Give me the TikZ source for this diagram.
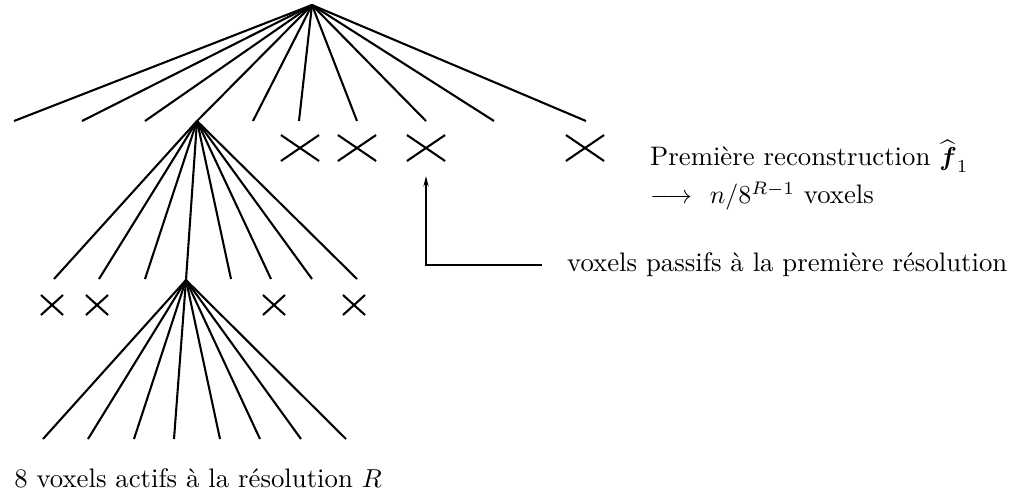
\documentclass[tikz,border=0pt]{standalone}
\usepackage{amsmath,amssymb}
\usepackage{tikz}
\usetikzlibrary{arrows.meta, shapes.misc}

\begin{document}
\begin{tikzpicture}[
    x=0.385pt, y=-0.385pt,
    font=\fontsize{10.3pt}{12.5pt}\selectfont,
    branch/.style={thick},
    bigcross/.style={cross out, draw, thick, inner sep=0pt,
                     minimum width=13.9pt, minimum height=9.2pt},
    smallcross/.style={cross out, draw, thick, inner sep=0pt,
                       minimum width=7.7pt, minimum height=6.9pt},
    pointer/.style={-{Stealth[length=4pt, width=2pt]}, thin},
    label/.style={align=left},
  ]
  \useasboundingbox (0,0) rectangle (1023,497);

  % Tree nodes
  \coordinate (root) at (312,5);
  \coordinate (sub1) at (197,121);
  \coordinate (sub2) at (186,280);

  % First resolution
  \draw[branch] (root) -- (sub1);
  \foreach \x [count=\i] in {14,82,145,253,299,357,426,494,586} {
    \coordinate (a\i) at (\x,121);
    \draw[branch] (root) -- (a\i);
  }
  \node[bigcross] (p1) at (300,148) {};
  \node[bigcross] (p2) at (357,148) {};
  \node[bigcross] (p3) at (426,148) {};
  \node[bigcross] (p4) at (585,148) {};

  % Second resolution
  \draw[branch] (sub1) -- (sub2);
  \foreach \x [count=\i] in {54,99,145,231,271,312,357} {
    \coordinate (b\i) at (\x,279);
    \draw[branch] (sub1) -- (b\i);
  }
  \node[smallcross] (q1) at (52,305) {};
  \node[smallcross] (q2) at (97,305) {};
  \node[smallcross] (q3) at (274,305) {};
  \node[smallcross] (q4) at (354,305) {};

  % Resolution R
  \foreach \x [count=\i] in {43,88,134,174,220,260,301,346} {
    \coordinate (c\i) at (\x,439);
    \draw[branch] (sub2) -- (c\i);
  }

  % Labels
  \node[label, anchor=west] (first) at (641,175)
    {Premi\`ere reconstruction $\widehat{\boldsymbol{f}}_1$\\[2pt]
     $\longrightarrow$\ \ $n/8^{R-1}$ voxels};
  \node[anchor=west] (passive) at (558,265)
    {voxels passifs \`a la premi\`ere r\'esolution};
  \node[anchor=base] (active) at (198,487)
    {8 voxels actifs \`a la r\'esolution $R$};

  \draw[pointer, shorten <=6pt, shorten >=5.8pt] (passive.west) -| (p3.south);
\end{tikzpicture}
\end{document}
